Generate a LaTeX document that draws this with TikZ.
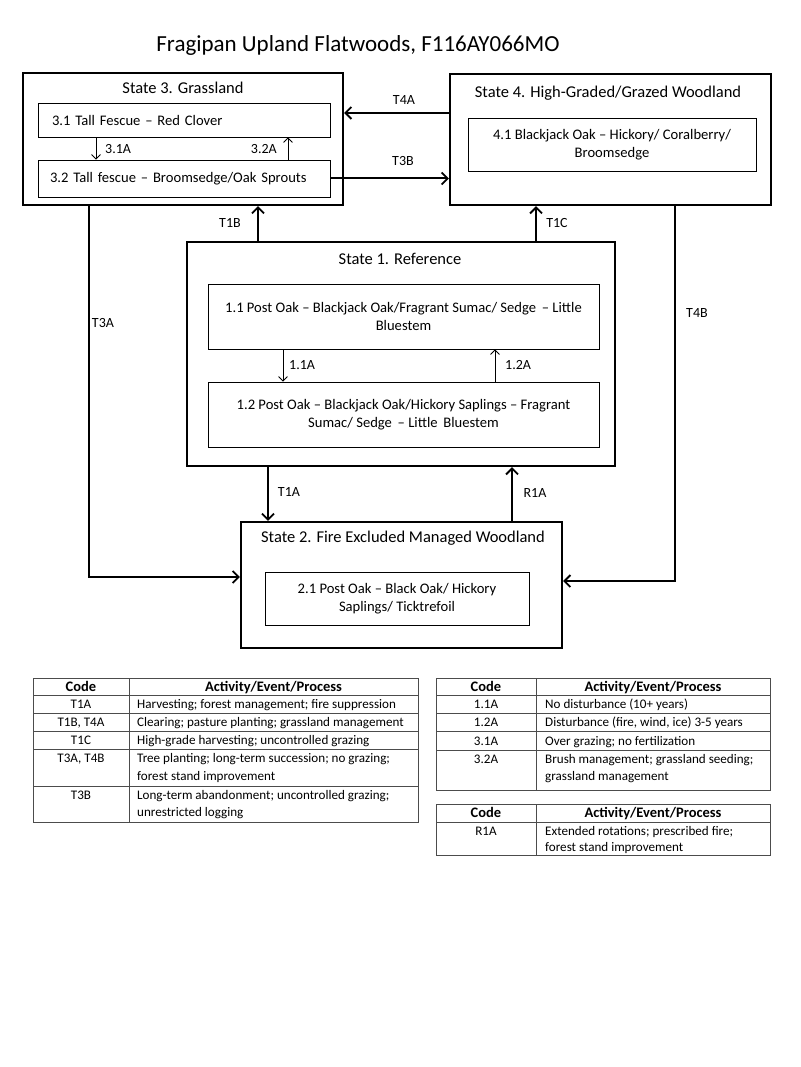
\documentclass[tikz,border=0pt]{standalone}
\usepackage{fontspec}
\setmainfont{Carlito}
\usetikzlibrary{arrows.meta,calc}
\begin{document}
\begin{tikzpicture}[x=1pt,y=-1pt,
  statebox/.style={draw, line width=2.4pt, inner sep=0pt},
  phase/.style={draw, line width=0.8pt, inner sep=0pt, align=center, font=\fontsize{14.6}{17.5}\selectfont},
  stitle/.style={inner sep=0pt, font=\fontsize{16.5}{19}\selectfont},
  lbl/.style={inner sep=0pt, font=\fontsize{14}{16}\selectfont},
  big/.style={line width=2pt, -{Straight Barb[length=6pt,width=12pt,line width=1.8pt]}},
  small/.style={line width=0.8pt, -{Straight Barb[length=4.5pt,width=9pt,line width=0.8pt]}},
  tline/.style={draw=black!70, line width=0.9pt},
  cell/.style={inner sep=0pt, font=\fontsize{13.1}{18}\selectfont, anchor=base},
  hcell/.style={inner sep=0pt, font=\fontsize{14.5}{18}\selectfont\bfseries, anchor=base},
  txt/.style={inner sep=0pt, font=\fontsize{13.1}{18}\selectfont, anchor=base west}
]
\useasboundingbox[fill=white] (0,0) rectangle (800,1067);

% title
\node[inner sep=0pt, font=\fontsize{23}{27}\selectfont] (title) at (358,45) {Fragipan Upland Flatwoods, F116AY066MO};

% State 3
\node[statebox, minimum width=320pt, minimum height=132pt] (s3) at (183,139) {};
\node[stitle] (s3t) at (183,88) {State 3. Grassland};
\node[phase, minimum width=292pt, minimum height=34pt, text width=264pt, align=left, inner xsep=14pt] (b31) at (184,120) {3.1 Tall Fescue – Red Clover};
\node[phase, minimum width=292pt, minimum height=37pt, text width=268pt, align=left, inner xsep=12pt] (b32) at (184,178.5) {3.2 Tall fescue – Broomsedge/Oak Sprouts};

% State 4
\node[statebox, minimum width=321pt, minimum height=131pt] (s4) at (610.5,139.5) {};
\node[stitle] (s4t) at (608,93) {State 4. High-Graded/Grazed Woodland};
\node[phase, minimum width=288pt, minimum height=53pt] (b41) at (612,144.5) {4.1 Blackjack Oak – Hickory/ Coralberry/\\Broomsedge};

% State 1
\node[statebox, minimum width=428pt, minimum height=224pt] (s1) at (401,354) {};
\node[stitle] (s1t) at (400,259) {State 1. Reference};
\node[phase, minimum width=391pt, minimum height=65pt] (b11) at (403.5,316.5) {1.1 Post Oak – Blackjack Oak/Fragrant Sumac/ Sedge \,– Little\\Bluestem};
\node[phase, minimum width=391pt, minimum height=65pt] (b12) at (403.5,414.5) {1.2 Post Oak – Blackjack Oak/Hickory Saplings – Fragrant\\Sumac/ Sedge \,– Little \,Bluestem};

% State 2
\node[statebox, minimum width=321pt, minimum height=126pt] (s2) at (401.5,585) {};
\node[stitle] (s2t) at (403,538) {State 2. Fire Excluded Managed Woodland};
\node[phase, minimum width=264pt, minimum height=53pt] (b21) at (397,598.5) {2.1 Post Oak – Black Oak/ Hickory\\Saplings/ Ticktrefoil};

% community pathways
\draw[small] ([xshift=-88pt]b31.south) -- ([xshift=-88pt]b31.south |- b32.north);
\node[lbl, anchor=west] (l31) at (105,149) {3.1A};
\draw[small] ([xshift=104pt]b32.north) -- ([xshift=104pt]b32.north |- b31.south);
\node[lbl, anchor=east] (l32) at (277,149) {3.2A};
\draw[small] ([xshift=-120.5pt]b11.south) -- ([xshift=-120.5pt]b11.south |- b12.north);
\node[lbl, anchor=west] (l11) at (289,365) {1.1A};
\draw[small] ([xshift=91.5pt]b12.north) -- ([xshift=91.5pt]b12.north |- b11.south);
\node[lbl, anchor=west] (l12) at (505,365) {1.2A};

% transitions
\draw[big] ([yshift=26.5pt]s4.west) -- ([yshift=26.5pt]s4.west -| s3.east);
\node[lbl] (lt4a) at (404,100) {T4A};
\draw[big] (b32.east) -- (b32.east -| s4.west);
\node[lbl] (lt3b) at (403,161) {T3B};
\draw[big] ([xshift=-143pt]s1.north) -- ([xshift=-143pt]s1.north |- s3.south);
\node[lbl] (lt1b) at (230,223) {T1B};
\draw[big] ([xshift=135pt]s1.north) -- ([xshift=135pt]s1.north |- s4.south);
\node[lbl] (lt1c) at (557,223) {T1C};
\draw[big] ([xshift=-133pt]s1.south) -- ([xshift=-133pt]s1.south |- s2.north);
\node[lbl] (lt1a) at (289,492) {T1A};
\draw[big] ([xshift=110.5pt]s2.north) -- ([xshift=110.5pt]s2.north |- s1.south);
\node[lbl] (lr1a) at (535,493) {R1A};
\draw[big] ([xshift=-94pt]s3.south) |- ([yshift=8pt]s2.west);
\node[lbl] (lt3a) at (103,323) {T3A};
\draw[big] ([xshift=64.5pt]s4.south) |- ([yshift=4pt]s2.east);
\node[lbl] (lt4b) at (697,313) {T4B};

% left table
\draw[tline] (33,678) rectangle (418,822);
\draw[tline] (129,678) -- (129,822);
\foreach \yy in {695.5,713,731,749,786} \draw[tline] (33,\yy) -- (418,\yy);
\node[hcell] (lh1) at (81,691.8) {Code};
\node[hcell] (lh2) at (273.5,691.8) {Activity/Event/Process};
\node[cell] (lc1) at (81,708.5) {T1A};
\node[txt] (la1) at (137,708.5) {Harvesting; forest management; fire suppression};
\node[cell] (lc2) at (81,726.5) {T1B, T4A};
\node[txt] (la2) at (137,726.5) {Clearing; pasture planting; grassland management};
\node[cell] (lc3) at (81,744.5) {T1C};
\node[txt] (la3) at (137,744.5) {High-grade harvesting; uncontrolled grazing};
\node[cell] (lc4) at (81,762.5) {T3A, T4B};
\node[txt] (la4) at (137,762.5) {Tree planting; long-term succession; no grazing;};
\node[txt] (la4b) at (137,780.5) {forest stand improvement};
\node[cell] (lc5) at (81,799.5) {T3B};
\node[txt] (la5) at (137,799.5) {Long-term abandonment; uncontrolled grazing;};
\node[txt] (la5b) at (137,816.5) {unrestricted logging};

% right table 1
\draw[tline] (436,678) rectangle (770,790);
\draw[tline] (536,678) -- (536,790);
\foreach \yy in {695.5,713,731.5,750} \draw[tline] (436,\yy) -- (770,\yy);
\node[hcell] (rh1) at (486,691.8) {Code};
\node[hcell] (rh2) at (653,691.8) {Activity/Event/Process};
\node[cell] (rc1) at (486,708.5) {1.1A};
\node[txt] (ra1) at (545,708.5) {No disturbance (10+ years)};
\node[cell] (rc2) at (486,726.5) {1.2A};
\node[txt] (ra2) at (545,726.5) {Disturbance (fire, wind, ice) 3-5 years};
\node[cell] (rc3) at (486,745.5) {3.1A};
\node[txt] (ra3) at (545,745.5) {Over grazing; no fertilization};
\node[cell] (rc4) at (486,763.5) {3.2A};
\node[txt] (ra4) at (545,763.5) {Brush management; grassland seeding;};
\node[txt] (ra4b) at (545,780.5) {grassland management};

% right table 2
\draw[tline] (436,804) rectangle (770,855);
\draw[tline] (536,804) -- (536,855);
\draw[tline] (436,822) -- (770,822);
\node[hcell] (sh1) at (486,817.8) {Code};
\node[hcell] (sh2) at (653,817.8) {Activity/Event/Process};
\node[cell] (sc1) at (486,835.5) {R1A};
\node[txt] (sa1) at (545,835.5) {Extended rotations; prescribed fire;};
\node[txt] (sa1b) at (545,851.5) {forest stand improvement};
\end{tikzpicture}
\end{document}
